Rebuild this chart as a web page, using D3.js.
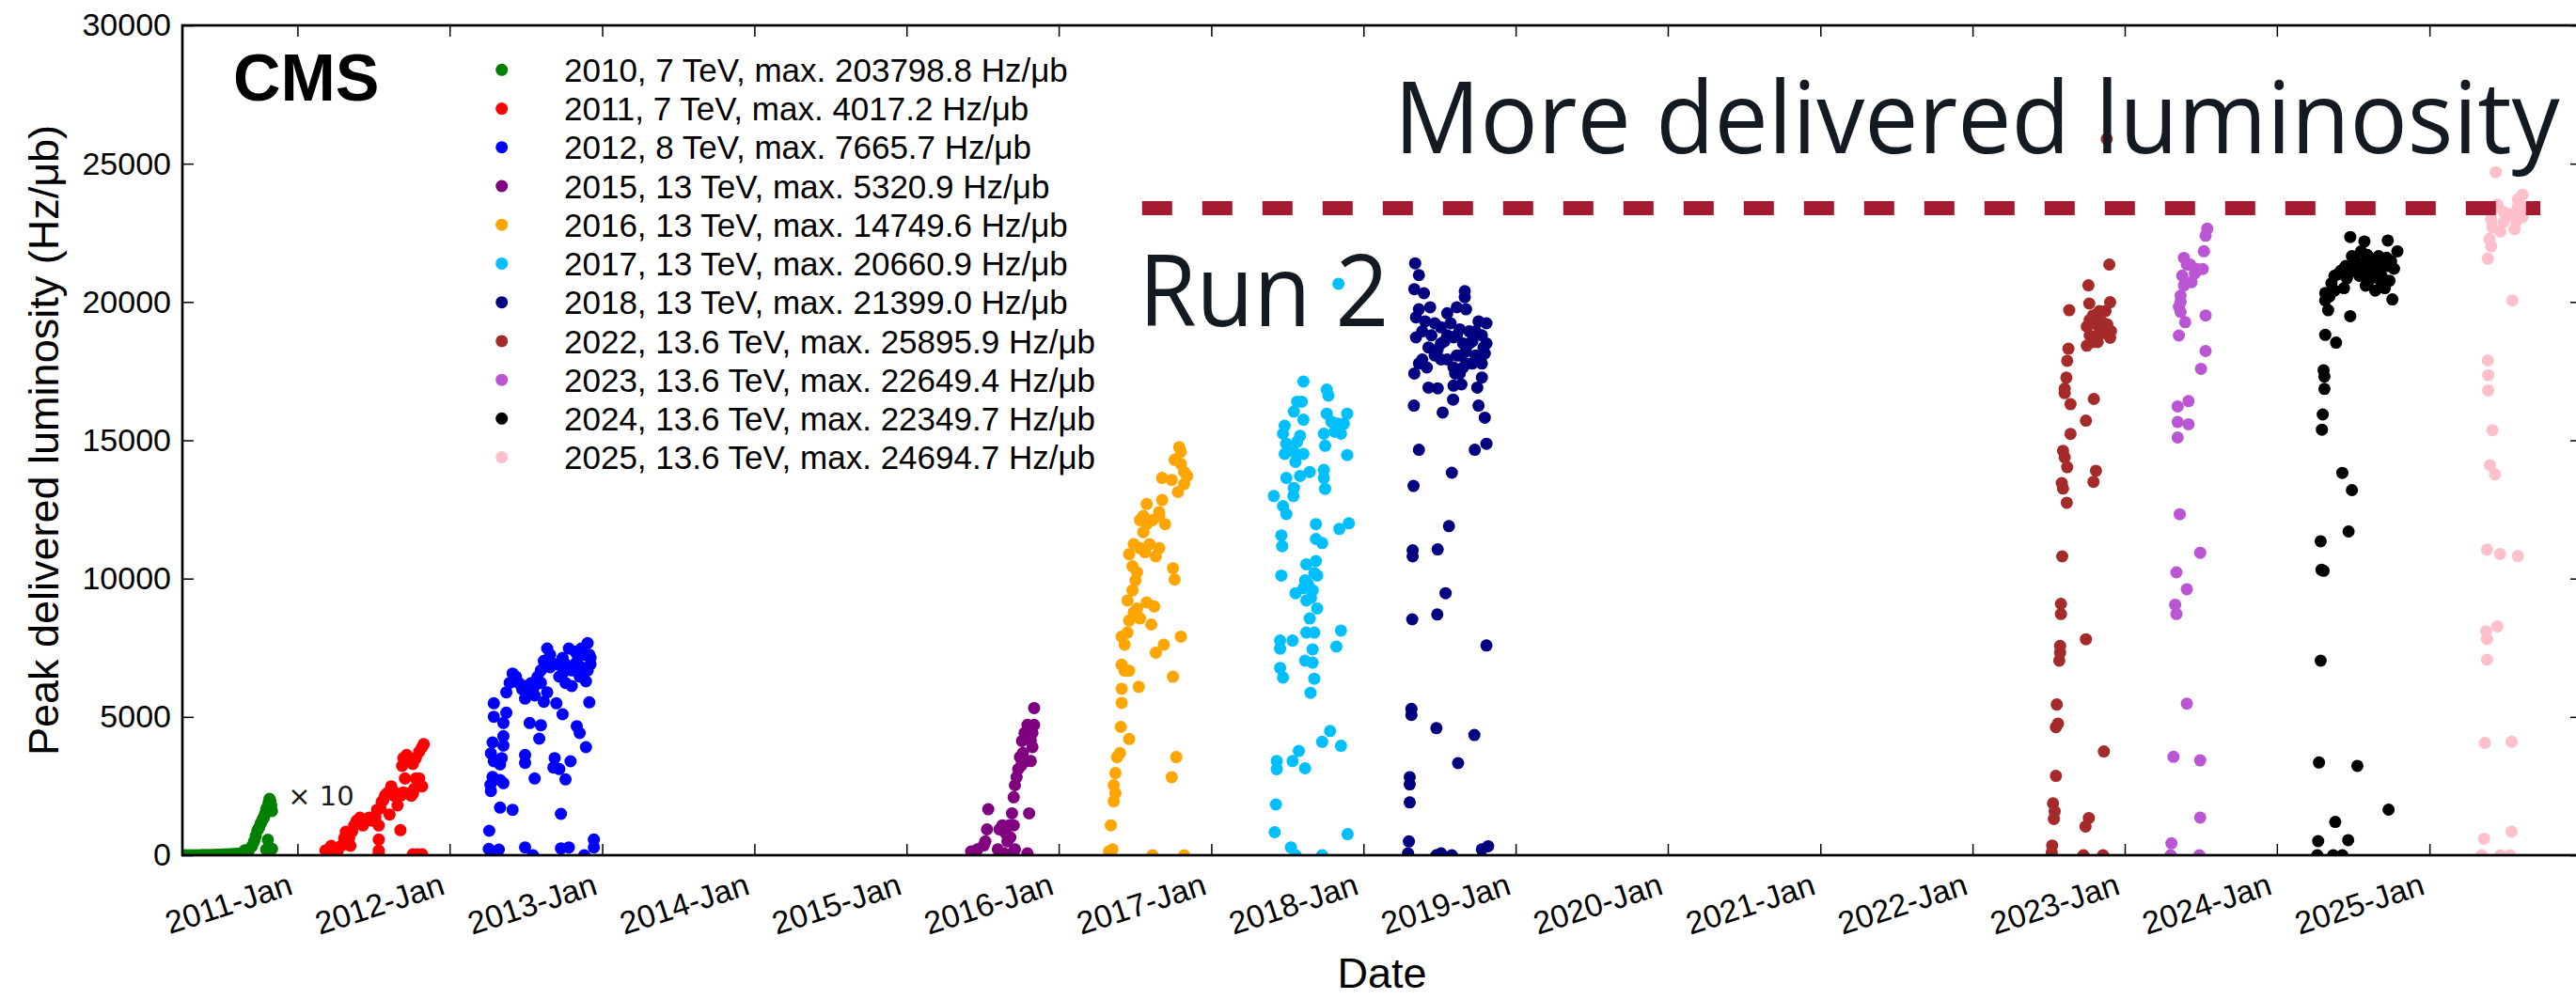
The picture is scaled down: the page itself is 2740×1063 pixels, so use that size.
<!DOCTYPE html>
<html><head><meta charset="utf-8">
<script src="https://cdn.jsdelivr.net/npm/d3@7"></script>
<style>body{margin:0;background:#fff;overflow:hidden}svg{display:block}</style>
</head><body>
<svg id="chart" width="2740" height="1063"></svg>
<script>
// ---------------- data ----------------
const lumi2010 = [["2010-03-31",0.1],["2010-04-08",0.1],["2010-04-16",0.2],["2010-04-24",0.2],["2010-05-02",0.3],["2010-05-10",0.4],["2010-05-18",0.6],["2010-05-26",0.8],["2010-06-03",1.0],["2010-06-11",1.2],["2010-06-19",1.5],["2010-06-27",2.0],["2010-07-05",2.5],["2010-07-13",3.0],["2010-07-21",3.5],["2010-07-29",4.0],["2010-08-06",5],["2010-08-14",6],["2010-08-22",8],["2010-08-28",18],["2010-09-05",12],["2010-09-14",33],["2010-09-19",50],["2010-09-23",70],["2010-09-27",90],["2010-10-01",100],["2010-10-05",115],["2010-10-09",128],["2010-10-12",135],["2010-10-15",148],["2010-10-18",165],["2010-10-21",175],["2010-10-24",190],["2010-10-26",203.8],["2010-10-28",195],["2010-10-30",180],["2010-11-01",160],["2010-10-22",56],["2010-11-01",23],["2010-10-18",20]];
const lumi2011 = [["2011-03-09",170],["2011-03-14",60],["2011-03-23",340],["2011-04-01",60],["2011-04-08",170],["2011-04-16",340],["2011-04-23",620],["2011-04-27",850],["2011-05-05",620],["2011-05-08",340],["2011-05-12",850],["2011-05-17",1076],["2011-05-23",1246],["2011-05-31",1359],["2011-06-03",1200],["2011-06-07",1076],["2011-06-15",1250],["2011-06-22",1359],["2011-06-26",1300],["2011-06-30",1250],["2011-07-07",1359],["2011-07-11",1642],["2011-07-15",1076],["2011-07-15",566],["2011-07-15",170],["2011-07-15",30],["2011-07-19",1700],["2011-07-22",1925],["2011-07-26",2000],["2011-07-30",2152],["2011-08-02",2200],["2011-08-06",2265],["2011-08-10",1472],["2011-08-14",2492],["2011-08-17",2300],["2011-08-21",2152],["2011-08-25",2250],["2011-08-29",1800],["2011-09-01",2200],["2011-09-05",2152],["2011-09-05",906],["2011-09-09",3228],["2011-09-12",3511],["2011-09-12",2265],["2011-09-16",2775],["2011-09-20",3624],["2011-09-20",2230],["2011-09-27",3400],["2011-10-01",2152],["2011-10-05",3300],["2011-10-05",2230],["2011-10-05",30],["2011-10-08",2400],["2011-10-12",3511],["2011-10-12",2775],["2011-10-16",30],["2011-10-20",3737],["2011-10-20",2775],["2011-10-27",3907],["2011-10-27",2492],["2011-10-27",30],["2011-10-31",4017]];
const lumi2012 = [["2012-04-04",227],["2012-04-05",883],["2012-04-08",2548],["2012-04-09",2322],["2012-04-09",3681],["2012-04-13",2831],["2012-04-13",4077],["2012-04-16",3398],["2012-04-16",5493],["2012-04-16",5006],["2012-04-24",0],["2012-04-28",204],["2012-05-01",1721],["2012-05-01",2718],["2012-05-01",3284],["2012-05-05",3511],["2012-05-09",2605],["2012-05-09",4303],["2012-05-09",3964],["2012-05-09",4779],["2012-05-16",5153],["2012-05-16",5889],["2012-05-24",6229],["2012-05-31",1642],["2012-05-31",6569],["2012-06-08",6456],["2012-06-15",6229],["2012-06-23",6003],["2012-06-30",283],["2012-06-30",3624],["2012-06-30",3341],["2012-06-30",5663],["2012-06-30",6116],["2012-07-08",6003],["2012-07-11",4779],["2012-07-15",6229],["2012-07-19",0],["2012-07-23",2775],["2012-07-23",5776],["2012-07-23",6116],["2012-07-30",6456],["2012-08-03",4213],["2012-08-07",4700],["2012-08-07",6682],["2012-08-07",6229],["2012-08-14",5550],["2012-08-14",7022],["2012-08-22",7475],["2012-08-22",5889],["2012-08-29",7248],["2012-08-29",6795],["2012-09-06",6909],["2012-09-06",3171],["2012-09-09",3511],["2012-09-13",5493],["2012-09-13",6909],["2012-09-20",3114],["2012-09-20",6456],["2012-09-24",249],["2012-09-24",1495],["2012-09-28",5096],["2012-09-28",6569],["2012-09-28",7135],["2012-10-05",2741],["2012-10-05",6229],["2012-10-05",6909],["2012-10-13",283],["2012-10-13",7475],["2012-10-17",3398],["2012-10-20",6116],["2012-10-20",6682],["2012-10-28",7362],["2012-10-28",6909],["2012-11-01",4666],["2012-11-04",7135],["2012-11-08",4417],["2012-11-08",6456],["2012-11-12",7475],["2012-11-12",6795],["2012-11-19",0],["2012-11-19",7248],["2012-11-23",3907],["2012-11-23",6285],["2012-11-27",7666],["2012-11-27",6682],["2012-12-01",5527],["2012-12-01",7248],["2012-12-04",7135],["2012-12-04",6909],["2012-12-12",566],["2012-12-12",283]];
const lumi2015 = [["2015-06-05",136],["2015-06-20",211],["2015-07-05",353],["2015-07-09",499],["2015-07-13",934],["2015-07-16",1661],["2015-08-08",211],["2015-08-12",934],["2015-08-19",1080],["2015-08-23",65],["2015-08-27",790],["2015-08-31",499],["2015-09-04",1080],["2015-09-07",646],["2015-09-11",1515],["2015-09-11",65],["2015-09-15",2096],["2015-09-15",1080],["2015-09-18",2531],["2015-09-18",211],["2015-09-22",2820],["2015-09-26",3112],["2015-09-30",3547],["2015-10-04",3260],["2015-10-05",4130],["2015-10-07",3693],["2015-10-11",4420],["2015-10-15",3403],["2015-10-18",4710],["2015-10-18",65],["2015-10-22",1515],["2015-10-26",3403],["2015-10-26",4130],["2015-10-30",3911],["2015-10-30",4420],["2015-11-03",4710],["2015-11-03",5321]];
const lumi2016 = [["2016-05-01",136],["2016-05-05",1080],["2016-05-09",211],["2016-05-12",1950],["2016-05-12",2531],["2016-05-16",2242],["2016-05-16",2969],["2016-05-20",3547],["2016-05-27",3693],["2016-05-29",4638],["2016-05-31",5507],["2016-05-31",6017],["2016-05-31",6887],["2016-05-31",7903],["2016-06-07",6669],["2016-06-07",7614],["2016-06-14",8049],["2016-06-14",9211],["2016-06-18",4203],["2016-06-18",6669],["2016-06-18",8484],["2016-06-18",10882],["2016-06-26",9574],["2016-06-26",10444],["2016-06-29",8776],["2016-06-29",11242],["2016-07-03",9937],["2016-07-07",8922],["2016-07-07",10226],["2016-07-11",6088],["2016-07-14",8558],["2016-07-14",11100],["2016-07-14",12115],["2016-07-22",11680],["2016-07-22",12262],["2016-07-26",10953],["2016-07-30",9139],["2016-07-30",11970],["2016-07-30",12697],["2016-08-06",11242],["2016-08-10",8341],["2016-08-13",12115],["2016-08-13",0],["2016-08-17",8993],["2016-08-21",10807],["2016-08-21",7325],["2016-08-29",11100],["2016-08-29",12262],["2016-08-29",12404],["2016-09-05",12840],["2016-09-05",13640],["2016-09-09",7614],["2016-09-12",11970],["2016-09-28",13566],["2016-09-28",2823],["2016-10-01",10372],["2016-10-01",6452],["2016-10-05",14293],["2016-10-05",9965],["2016-10-09",3547],["2016-10-13",13131],["2016-10-16",14750],["2016-10-20",14583],["2016-10-20",14147],["2016-10-20",7903],["2016-10-28",13420],["2016-10-28",13857],["2016-10-28",0],["2016-11-04",13711]];
const lumi2017 = [["2017-05-31",12985],["2017-06-02",832],["2017-06-05",1835],["2017-06-07",3404],["2017-06-07",3112],["2017-06-15",7760],["2017-06-15",7468],["2017-06-15",6771],["2017-06-18",11562],["2017-06-18",10111],["2017-06-20",11171],["2017-06-22",15237],["2017-06-22",12622],["2017-06-22",6425],["2017-06-26",15527],["2017-06-26",14510],["2017-06-30",14874],["2017-06-30",13640],["2017-06-30",12333],["2017-07-11",282],["2017-07-15",7760],["2017-07-15",3404],["2017-07-17",12985],["2017-07-18",16036],["2017-07-18",14583],["2017-07-18",13278],["2017-07-22",14219],["2017-07-22",9472],["2017-07-22",0],["2017-07-26",16397],["2017-07-26",14947],["2017-07-30",3768],["2017-08-02",15164],["2017-08-02",13711],["2017-08-06",16397],["2017-08-10",17123],["2017-08-10",15744],["2017-08-10",14510],["2017-08-10",9650],["2017-08-14",9937],["2017-08-14",7033],["2017-08-14",3143],["2017-08-17",10519],["2017-08-17",9211],["2017-08-17",8049],["2017-08-21",9800],["2017-08-25",13857],["2017-08-25",8558],["2017-08-27",5871],["2017-08-28",9300],["2017-09-01",9574],["2017-09-01",7440],["2017-09-01",6961],["2017-09-05",8049],["2017-09-05",6380],["2017-09-05",10200],["2017-09-09",11970],["2017-09-09",11433],["2017-09-09",10634],["2017-09-12",10111],["2017-09-12",8922],["2017-09-24",11287],["2017-09-24",4101],["2017-09-24",0],["2017-09-28",15237],["2017-09-28",13930],["2017-09-28",13640],["2017-10-01",14801],["2017-10-01",13246],["2017-10-05",16834],["2017-10-05",15963],["2017-10-09",16616],["2017-10-13",4491],["2017-10-16",15672],["2017-10-24",15309],["2017-10-28",7542],["2017-10-31",15599],["2017-11-02",20661],["2017-11-04",11796],["2017-11-08",15237],["2017-11-08",8123],["2017-11-08",3955],["2017-11-15",15599],["2017-11-23",15963],["2017-11-23",14466],["2017-11-24",761],["2017-11-27",12000]];
const lumi2018 = [["2018-04-18",65],["2018-04-20",499],["2018-04-22",2823],["2018-04-22",2562],["2018-04-22",1909],["2018-04-26",5290],["2018-04-26",5072],["2018-04-28",8528],["2018-04-29",11025],["2018-04-29",10807],["2018-05-01",13349],["2018-05-02",16254],["2018-05-03",20463],["2018-05-03",17415],["2018-05-05",21399],["2018-05-07",19446],["2018-05-07",18720],["2018-05-14",20972],["2018-05-14",19736],["2018-05-14",17776],["2018-05-14",14657],["2018-05-22",18938],["2018-05-22",17922],["2018-05-26",20317],["2018-05-29",19301],["2018-06-02",17633],["2018-06-06",18357],["2018-06-06",16906],["2018-06-10",19810],["2018-06-13",18795],["2018-06-21",18068],["2018-06-21",19230],["2018-06-25",4593],["2018-06-25",0],["2018-06-27",8704],["2018-06-28",18285],["2018-06-28",16880],["2018-06-28",11055],["2018-07-06",19084],["2018-07-06",17922],["2018-07-06",18503],["2018-07-06",65],["2018-07-10",16006],["2018-07-14",18577],["2018-07-17",9472],["2018-07-21",19592],["2018-07-21",18795],["2018-07-21",17922],["2018-07-25",11898],["2018-07-29",19230],["2018-08-01",13828],["2018-08-01",0],["2018-08-04",16471],["2018-08-05",18720],["2018-08-05",17633],["2018-08-05",16977],["2018-08-09",17415],["2018-08-13",19810],["2018-08-13",18068],["2018-08-13",18795],["2018-08-16",3330],["2018-08-20",19012],["2018-08-20",17415],["2018-08-20",18068],["2018-08-24",17021],["2018-08-28",18503],["2018-08-28",17633],["2018-09-01",20390],["2018-09-01",20172],["2018-09-04",19736],["2018-09-04",18214],["2018-09-04",17776],["2018-09-12",18938],["2018-09-12",18503],["2018-09-19",18577],["2018-09-19",17776],["2018-09-24",4345],["2018-09-25",14657],["2018-09-27",18068],["2018-09-27",18938],["2018-10-01",16906],["2018-10-04",19301],["2018-10-04",16254],["2018-10-12",18795],["2018-10-12",17776],["2018-10-12",17270],["2018-10-12",211],["2018-10-16",18357],["2018-10-19",18139],["2018-10-19",15819],["2018-10-23",19230],["2018-10-23",18503],["2018-10-23",14874],["2018-10-23",7583],["2018-10-27",326]];
const lumi2022 = [["2022-07-10",109],["2022-07-11",350],["2022-07-13",1875],["2022-07-15",1311],["2022-07-17",1587],["2022-07-20",4631],["2022-07-20",2868],["2022-07-22",5450],["2022-07-25",4760],["2022-07-28",7036],["2022-07-30",7566],["2022-07-30",7325],["2022-08-01",9088],["2022-08-01",8721],["2022-08-03",13451],["2022-08-04",10804],["2022-08-06",14619],["2022-08-06",13257],["2022-08-10",16865],["2022-08-10",16705],["2022-08-10",14382],["2022-08-14",17266],["2022-08-15",12744],["2022-08-16",17874],["2022-08-16",14028],["2022-08-19",18309],["2022-08-21",19702],["2022-08-24",16305],["2022-08-24",15231],["2022-09-24",0],["2022-09-29",1040],["2022-09-30",15710],["2022-09-30",7807],["2022-10-02",19111],["2022-10-02",18421],["2022-10-06",20602],["2022-10-07",1345],["2022-10-08",19943],["2022-10-09",18788],["2022-10-09",19350],["2022-10-17",19512],["2022-10-17",18550],["2022-10-18",13498],["2022-10-19",16495],["2022-10-24",19189],["2022-10-24",13899],["2022-10-24",19512],["2022-10-28",18550],["2022-11-01",19672],["2022-11-01",18870],["2022-11-08",19271],["2022-11-08",18870],["2022-11-10",0],["2022-11-12",3751],["2022-11-16",19672],["2022-11-19",25896],["2022-11-20",19189],["2022-11-25",21354],["2022-11-27",19991],["2022-11-27",18710],["2022-11-29",18948]];
const lumi2023 = [["2023-04-21",0],["2023-04-23",431],["2023-04-28",3557],["2023-05-02",9058],["2023-05-05",10226],["2023-05-05",8721],["2023-05-08",16223],["2023-05-08",15662],["2023-05-08",15102],["2023-05-11",19831],["2023-05-11",18788],["2023-05-13",12326],["2023-05-15",20232],["2023-05-15",19638],["2023-05-15",20000],["2023-05-19",20953],["2023-05-23",21595],["2023-05-23",20600],["2023-05-26",19271],["2023-05-30",9618],["2023-05-30",5480],["2023-05-30",21354],["2023-06-03",16417],["2023-06-03",15581],["2023-06-07",21354],["2023-06-10",20714],["2023-06-18",21034],["2023-06-22",21194],["2023-06-29",0],["2023-07-01",10933],["2023-07-01",3428],["2023-07-01",1362],["2023-07-03",17585],["2023-07-07",21194],["2023-07-10",21836],["2023-07-14",22396],["2023-07-14",19512],["2023-07-14",18228],["2023-07-18",22649]];
const lumi2024 = [["2024-04-07",0],["2024-04-09",510],["2024-04-11",3353],["2024-04-15",11351],["2024-04-15",7033],["2024-04-17",10318],["2024-04-18",15384],["2024-04-20",15934],["2024-04-22",17535],["2024-04-22",10284],["2024-04-24",17304],["2024-04-24",16858],["2024-04-26",20324],["2024-04-26",20055],["2024-04-26",18812],["2024-05-03",19702],["2024-05-06",20200],["2024-05-11",20677],["2024-05-15",0],["2024-05-18",20946],["2024-05-18",20412],["2024-05-20",1203],["2024-05-22",18530],["2024-05-26",21000],["2024-06-02",21122],["2024-06-06",13821],["2024-06-06",0],["2024-06-10",21211],["2024-06-10",20501],["2024-06-14",21300],["2024-06-17",20857],["2024-06-20",547],["2024-06-21",11704],["2024-06-25",22350],["2024-06-25",19488],["2024-06-29",21656],["2024-06-29",13199],["2024-07-02",21122],["2024-07-06",21500],["2024-07-12",3231],["2024-07-17",20946],["2024-07-21",21832],["2024-07-21",21391],["2024-07-25",21100],["2024-07-29",22189],["2024-08-01",20589],["2024-08-05",21700],["2024-08-09",21299],["2024-08-09",20769],["2024-08-15",21400],["2024-08-20",21000],["2024-08-24",20412],["2024-09-01",21656],["2024-09-01",21211],["2024-09-04",20800],["2024-09-08",20946],["2024-09-12",21400],["2024-09-16",20501],["2024-09-20",21600],["2024-09-23",22223],["2024-09-23",21299],["2024-09-25",1648],["2024-09-27",20769],["2024-10-01",21479],["2024-10-04",20093],["2024-10-08",21200],["2024-10-16",21832]];
const lumi2025 = [["2025-05-06",0],["2025-05-12",598],["2025-05-14",4063],["2025-05-17",8096],["2025-05-19",11049],["2025-05-19",7814],["2025-05-19",7067],["2025-05-21",21567],["2025-05-21",17888],["2025-05-22",17354],["2025-05-22",16804],["2025-05-25",22277],["2025-05-26",14103],["2025-05-29",22988],["2025-05-29",22012],["2025-06-01",15367],["2025-06-01",22700],["2025-06-07",13767],["2025-06-09",24695],["2025-06-13",23521],["2025-06-13",23433],["2025-06-13",8276],["2025-06-19",10889],["2025-06-20",22546],["2025-06-20",0],["2025-06-28",22899],["2025-06-28",23256],["2025-07-13",23168],["2025-07-13",0],["2025-07-17",4101],["2025-07-17",849],["2025-07-19",20055],["2025-07-24",22634],["2025-07-28",23256],["2025-07-28",22900],["2025-08-01",23701],["2025-08-01",10818],["2025-08-01",23433],["2025-08-12",23878],["2025-08-12",23076],["2025-08-12",23433]];

const scale2010 = 10; // 2010 values are shown multiplied by 10
const legendLabels = ["2010, 7 TeV, max. 203798.8 Hz/μb","2011, 7 TeV, max. 4017.2 Hz/μb","2012, 8 TeV, max. 7665.7 Hz/μb","2015, 13 TeV, max. 5320.9 Hz/μb","2016, 13 TeV, max. 14749.6 Hz/μb","2017, 13 TeV, max. 20660.9 Hz/μb","2018, 13 TeV, max. 21399.0 Hz/μb","2022, 13.6 TeV, max. 25895.9 Hz/μb","2023, 13.6 TeV, max. 22649.4 Hz/μb","2024, 13.6 TeV, max. 22349.7 Hz/μb","2025, 13.6 TeV, max. 24694.7 Hz/μb"];
const seriesColors = ["green","red","blue","purple","orange","deepskyblue","navy","brown","mediumorchid","black","pink"];
const seriesFactors = [scale2010,1,1,1,1,1,1,1,1,1,1];
const xTickDates = ["2011-01-01","2012-01-01","2013-01-01","2014-01-01","2015-01-01","2016-01-01","2017-01-01","2018-01-01","2019-01-01","2020-01-01","2021-01-01","2022-01-01","2023-01-01","2024-01-01","2025-01-01"];
const yTickValues = [0,5000,10000,15000,20000,25000,30000];
const xDomain = ["2010-03-31","2026-01-01"];
const yDomain = [0,30000];
const runLine = {from:"2016-07-19", to:"2025-09-24", value:23390};
const annoMore = {text:"More delivered luminosity", date:"2018-03-15", value:25379};
const annoRun2 = {text:"Run 2", date:"2016-07-11", value:19128};
const annoTimes10 = {text:"× 10", date:"2010-12-09", value:1800};

// ---------------- drawing ----------------
const parse = d3.utcParse("%Y-%m-%d");
const L = 194, R = 2746, T = 27, B = 910;
const x = d3.scaleUtc().domain(xDomain.map(parse)).range([L, R]);
const y = d3.scaleLinear().domain(yDomain).range([B, T]);
const svg = d3.select("#chart");
const FONT = "'Liberation Sans', Arial, Helvetica, sans-serif";

svg.append("defs").append("clipPath").attr("id","plotclip")
  .append("rect").attr("x",L).attr("y",T).attr("width",R-L).attr("height",B-T);

const allSeries = [lumi2010,lumi2011,lumi2012,lumi2015,lumi2016,lumi2017,lumi2018,lumi2022,lumi2023,lumi2024,lumi2025];
const pts = svg.append("g").attr("clip-path","url(#plotclip)");
allSeries.forEach((s,i)=>{
  pts.append("g").selectAll("circle").data(s).join("circle")
    .attr("cx",d=>x(parse(d[0])))
    .attr("cy",d=>y(d[1]*seriesFactors[i]))
    .attr("r",6.5)
    .attr("fill",seriesColors[i]);
});

// axes
const xTicks = xTickDates.map(parse);
const gx = svg.append("g").attr("transform",`translate(0,${B})`)
  .call(d3.axisBottom(x).tickValues(xTicks).tickSize(-12).tickFormat(d3.utcFormat("%Y-%b")));
gx.selectAll("text").attr("x",0).attr("y",0).attr("dy",null)
  .attr("transform","translate(-4,41) rotate(-18)").attr("text-anchor","end")
  .style("font-family",FONT).style("font-size","34px").attr("fill","#000");
const gxt = svg.append("g").attr("transform",`translate(0,${T})`)
  .call(d3.axisTop(x).tickValues(xTicks).tickSize(-12).tickFormat(""));
const gy = svg.append("g").attr("transform",`translate(${L},0)`)
  .call(d3.axisLeft(y).tickValues(yTickValues).tickSize(-12).tickPadding(12).tickFormat(d3.format("d")));
gy.selectAll("text").style("font-family",FONT).style("font-size","34px").attr("fill","#000");
const gyr = svg.append("g").attr("transform",`translate(${R},0)`)
  .call(d3.axisRight(y).tickValues(yTickValues).tickSize(-12).tickFormat(""));
[gx,gxt,gy,gyr].forEach(g=>{
  g.select(".domain").remove();
  g.selectAll(".tick line").attr("stroke","#000").attr("stroke-width",1.5);
});
svg.append("rect").attr("x",L).attr("y",T).attr("width",R-L).attr("height",B-T)
  .attr("fill","none").attr("stroke","#000").attr("stroke-width",2.7);

// axis titles
svg.append("text").attr("x",(L+R)/2).attr("y",1051).attr("text-anchor","middle")
  .style("font-family",FONT).style("font-size","45px").text("Date");
svg.append("text").attr("transform",`translate(62,${(T+B)/2}) rotate(-90)`).attr("text-anchor","middle")
  .style("font-family",FONT).style("font-size","45px").text("Peak delivered luminosity (Hz/μb)");

// CMS
svg.append("text").attr("x",248).attr("y",107).style("font-family",FONT)
  .style("font-size","70px").style("font-weight","bold").text("CMS");

// legend
const lg = svg.append("g");
legendLabels.forEach((lab,i)=>{
  const cy = 74.3 + i*41.23;
  lg.append("circle").attr("cx",533.7).attr("cy",cy).attr("r",6.5).attr("fill",seriesColors[i]);
  lg.append("text").attr("x",600).attr("y",cy).attr("dy","0.36em")
    .style("font-family",FONT).style("font-size","35px").text(lab);
});

// ×10 annotation
svg.append("text").attr("x",x(parse(annoTimes10.date))).attr("y",y(annoTimes10.value))
  .style("font-family","'DejaVu Sans', sans-serif").style("font-size","29px").attr("fill","#1a1a1a").text(annoTimes10.text);

// run-2 line & labels
svg.append("line").attr("x1",x(parse(runLine.from))).attr("x2",x(parse(runLine.to)))
  .attr("y1",y(runLine.value)).attr("y2",y(runLine.value))
  .attr("stroke","#a51a30").attr("stroke-width",15).attr("stroke-dasharray","32,32");
const AFONT = "'Open Sans','Noto Sans',sans-serif";
svg.append("g").attr("transform",`translate(${x(parse(annoMore.date))},${y(annoMore.value)}) scale(1,1.06)`)
  .append("text").attr("x",0).attr("y",0)
  .attr("textLength",1240).attr("lengthAdjust","spacingAndGlyphs")
  .style("font-family",AFONT).style("font-size","100px").attr("fill","#131a21").text(annoMore.text);
svg.append("g").attr("transform",`translate(${x(parse(annoRun2.date))},${y(annoRun2.value)}) scale(1,1.06)`)
  .append("text").attr("x",0).attr("y",0)
  .attr("textLength",266).attr("lengthAdjust","spacingAndGlyphs")
  .style("font-family",AFONT).style("font-size","100px").attr("fill","#131a21").text(annoRun2.text);
</script>
</body></html>
